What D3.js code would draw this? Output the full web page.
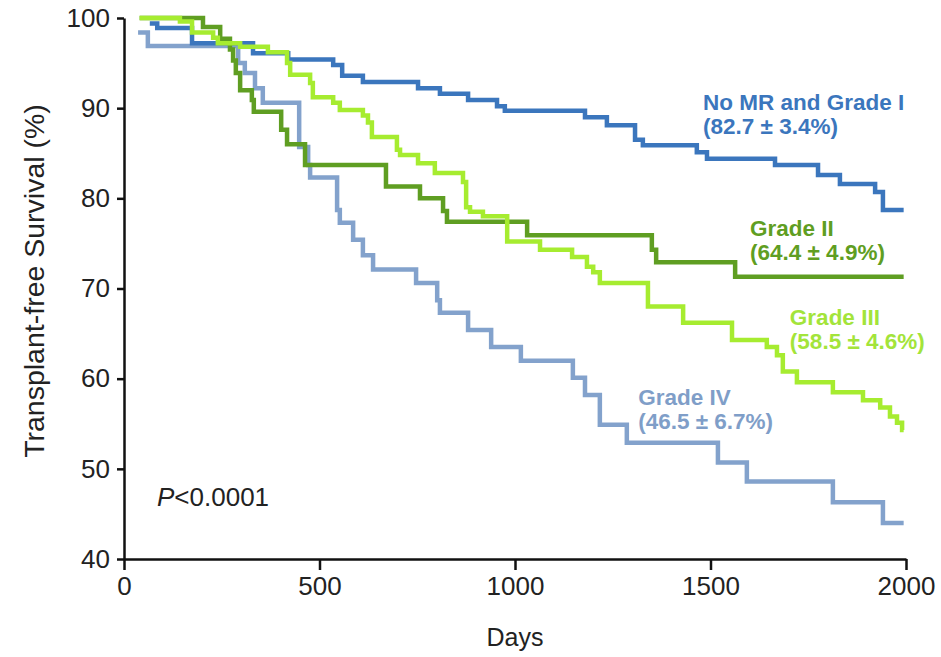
<!DOCTYPE html>
<html>
<head>
<meta charset="utf-8">
<script src="https://cdn.jsdelivr.net/npm/d3@7"></script>
<style>
  body { margin: 0; background: #fff; }
  svg { display: block; font-family: "Liberation Sans", Arial, Helvetica, sans-serif; }
</style>
</head>
<body>
<div id="chart"></div>
<script>
// Kaplan-Meier steps: day of the step and the survival after it
const gradeIDays   = [66, 85, 174, 330, 420, 535, 558, 611, 752, 808, 880, 954, 974, 1179, 1235, 1307, 1327, 1465, 1491, 1665, 1775, 1831, 1921, 1941, 1994];
const gradeIVals   = [99.4, 98.9, 97.2, 96.1, 95.4, 94.8, 93.6, 92.9, 92.2, 91.6, 90.9, 90.2, 89.7, 89.0, 88.1, 86.5, 85.9, 85.1, 84.4, 83.7, 82.6, 81.6, 80.7, 78.7, 78.7];

const gradeIIDays  = [40, 202, 246, 271, 279, 286, 297, 327, 332, 402, 417, 463, 670, 757, 816, 826, 1031, 1350, 1361, 1563, 1994];
const gradeIIVals  = [100, 99.0, 97.7, 96.5, 95.3, 93.9, 92.0, 90.9, 89.6, 87.6, 86.0, 83.7, 81.3, 80.0, 78.6, 77.4, 75.9, 74.3, 72.9, 71.3, 71.3];

const gradeIIIDays = [40, 143, 174, 228, 240, 297, 368, 417, 425, 476, 483, 535, 552, 611, 624, 634, 698, 706, 752, 795, 867, 875, 885, 918, 980, 1064, 1146, 1184, 1200, 1217, 1340, 1430, 1555, 1644, 1670, 1685, 1721, 1813, 1890, 1934, 1959, 1977, 1990, 1994];
const gradeIIIVals = [100, 99.6, 98.4, 97.8, 97.2, 96.8, 96.2, 95.0, 93.7, 92.8, 91.2, 90.6, 89.8, 89.2, 88.4, 86.8, 85.4, 84.8, 83.9, 82.8, 81.8, 79.0, 78.5, 78.0, 75.2, 74.3, 73.5, 72.4, 71.8, 70.6, 68.0, 66.2, 64.3, 63.5, 62.6, 60.8, 59.6, 58.5, 57.6, 56.8, 55.8, 55.1, 54.3, 54.3];

const gradeIVDays  = [36, 61, 292, 309, 335, 355, 448, 471, 476, 545, 552, 586, 611, 637, 747, 801, 808, 880, 939, 1015, 1148, 1179, 1217, 1286, 1519, 1593, 1813, 1941, 1994];
const gradeIVVals  = [98.4, 96.9, 95.0, 93.9, 92.2, 90.6, 85.7, 83.7, 82.3, 78.7, 77.3, 75.4, 73.7, 72.1, 70.6, 68.7, 67.3, 65.4, 63.5, 62.0, 60.1, 58.2, 54.9, 52.9, 50.7, 48.6, 46.3, 44.0, 44.0];

const xTicks = [0, 500, 1000, 1500, 2000];
const yTicks = [40, 50, 60, 70, 80, 90, 100];

// drawing order: Grade IV at the back, Grade III on top
const seriesNames  = ['Grade IV', 'No MR and Grade I', 'Grade II', 'Grade III'];
const seriesNotes  = ['(46.5 \u00b1 6.7%)', '(82.7 \u00b1 3.4%)', '(64.4 \u00b1 4.9%)', '(58.5 \u00b1 4.6%)'];
const seriesColors = ['#83a2cc', '#3b76bd', '#5f9e22', '#a6ec30'];
const labelColors  = ['#7f9ec8', '#3b76bd', '#5f9e22', '#a3e43a'];
// first-line baseline of each label, in data units
const labelAt      = [[1315, 57.1], [1481, 89.8], [1601, 75.8], [1703, 65.95]];

const width = 941, height = 657;
const margin = {top: 18, right: 35, bottom: 98, left: 124};

const svg = d3.select('#chart')
  .append('svg')
    .attr('width', width)
    .attr('height', height);

const x = d3.scaleLinear().domain([0, 2000]).range([margin.left, width - margin.right]);
const y = d3.scaleLinear().domain([40, 100]).range([height - margin.bottom, margin.top]);

const series = [
  {days: gradeIVDays, vals: gradeIVVals},
  {days: gradeIDays, vals: gradeIVals},
  {days: gradeIIDays, vals: gradeIIVals},
  {days: gradeIIIDays, vals: gradeIIIVals}
].map((s, i) => ({
  name: seriesNames[i],
  color: seriesColors[i],
  points: s.days.map((d, j) => ({day: d, val: s.vals[j]}))
}));

const line = d3.line()
  .x(d => x(d.day))
  .y(d => y(d.val))
  .curve(d3.curveStepAfter);

svg.append('g')
  .selectAll('path')
  .data(series)
  .enter()
  .append('path')
    .attr('d', d => line(d.points))
    .attr('fill', 'none')
    .attr('stroke', d => d.color)
    .attr('stroke-width', 4.5);

// axes
const yAxis = svg.append('g')
  .attr('transform', `translate(${margin.left},0)`)
  .call(d3.axisLeft(y).tickValues(yTicks).tickSize(7).tickSizeOuter(0).tickPadding(7));

const xAxis = svg.append('g')
  .attr('transform', `translate(0,${height - margin.bottom})`)
  .call(d3.axisBottom(x).tickValues(xTicks).tickFormat(d3.format('d'))
    .tickSize(11).tickSizeOuter(0).tickPadding(7));

[xAxis, yAxis].forEach(a => {
  a.select('.domain').attr('stroke', '#111').attr('stroke-width', 2.5);
  a.selectAll('.tick line').attr('stroke', '#111').attr('stroke-width', 2.5);
  a.selectAll('.tick text')
    .attr('fill', '#222')
    .style('font-size', '26px');
});

svg.append('text')
  .attr('x', x(1000))
  .attr('y', 646)
  .attr('text-anchor', 'middle')
  .attr('fill', '#222')
  .style('font-size', '25px')
  .text('Days');

svg.append('text')
  .attr('transform', `translate(44,281) rotate(-90)`)
  .attr('text-anchor', 'middle')
  .attr('fill', '#222')
  .style('font-size', '28.5px')
  .text('Transplant-free Survival (%)');

// group labels
const labels = svg.append('g')
  .selectAll('text')
  .data(series)
  .enter()
  .append('text')
    .attr('x', (d, i) => x(labelAt[i][0]))
    .attr('y', (d, i) => y(labelAt[i][1]))
    .attr('fill', (d, i) => labelColors[i])
    .style('font-size', '22.5px')
    .style('font-weight', 'bold');

labels.append('tspan').text(d => d.name);
labels.append('tspan')
  .attr('x', (d, i) => x(labelAt[i][0]))
  .attr('dy', 24)
  .text((d, i) => seriesNotes[i]);

const p = svg.append('text')
  .attr('x', 157)
  .attr('y', 506)
  .attr('fill', '#222')
  .style('font-size', '26px');
p.append('tspan').style('font-style', 'italic').text('P');
p.append('tspan').text('<0.0001');
</script>
</body>
</html>
